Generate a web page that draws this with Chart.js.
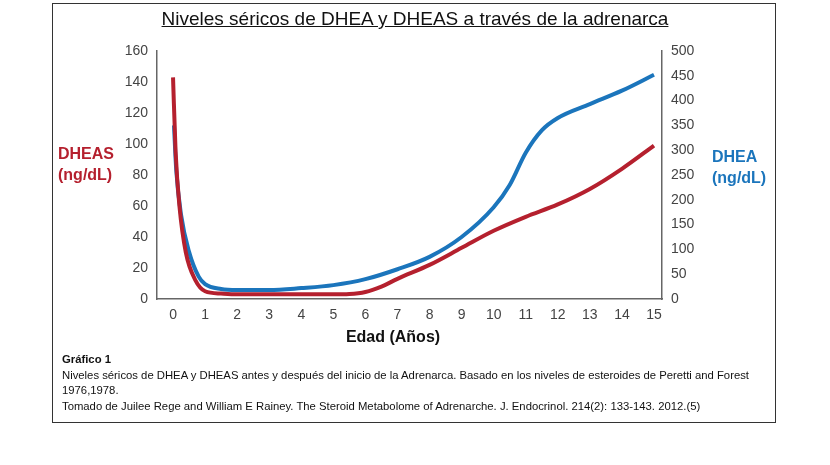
<!DOCTYPE html>
<html><head><meta charset="utf-8">
<script src="https://cdn.jsdelivr.net/npm/chart.js@4"></script>
<style>
body{margin:0;background:#fff;font-family:"Liberation Sans",Arial,sans-serif;}
#wrap{position:relative;width:830px;height:465px;}
#frame{position:absolute;left:52px;top:3px;width:724px;height:420px;border:1px solid #333;box-sizing:border-box;}
.t{position:absolute;white-space:nowrap;}
</style></head><body>
<div id="wrap">
<div id="frame"></div>
<canvas id="c" width="830" height="465" style="position:absolute;left:0;top:0"></canvas>
<div class="t" style="left:0;width:830px;text-align:center;top:8px;font-size:19px;text-decoration:underline;color:#111">Niveles séricos de DHEA y DHEAS a través de la adrenarca</div>
<div class="t" style="left:58px;top:143px;font-size:16px;font-weight:bold;color:#b5202e;line-height:21px;text-align:left">DHEAS<br>(ng/dL)</div>
<div class="t" style="left:712px;top:146px;font-size:16px;font-weight:bold;color:#1b75bc;line-height:21px">DHEA<br>(ng/dL)</div>
<div class="t" style="left:0;width:830px;text-align:center;top:328px;font-size:16px;font-weight:bold;color:#111"><span style="position:relative;left:-22px">Edad (Años)</span></div>
<div class="t" style="left:62px;top:352px;font-size:11.3px;color:#111;line-height:15.5px;white-space:normal;width:705px"><b>Gráfico 1</b><br>Niveles séricos de DHEA y DHEAS antes y después del inicio de la Adrenarca. Basado en los niveles de esteroides de Peretti and Forest 1976,1978.<br>Tomado de Juilee Rege and William E Rainey. The Steroid Metabolome of Adrenarche. J. Endocrinol. 214(2): 133-143. 2012.(5)</div>
</div>
<script>
const dheasX=[0,0.08,0.2,0.4,0.7,1,1.5,2,3,4,5,5.5,6,6.5,7,8,9,10,11,12,13,14,15];
const dheasY=[143,95,60,30,12,5,3.5,3,3,3,3,3.2,4.5,8,13,22,33,44,53,61,71,84,99];
const dheaX=[0.03,0.1,0.25,0.5,0.8,1,1.5,2,3,4,5,6,7,8,9,10,10.5,11,11.5,12,13,14,15];
const dheaY=[350,260,170,95,45,30,20,18,18,22,28,40,60,85,125,185,230,295,340,365,393,420,452];
const xTicks=[0,1,2,3,4,5,6,7,8,9,10,11,12,13,14,15];
const pts=(xs,ys)=>xs.map((x,i)=>({x,y:ys[i]}));
const tickFont={family:"Liberation Sans, Arial",size:14};
new Chart(document.getElementById('c'),{
 type:'line',
 data:{datasets:[
  {data:pts(dheasX,dheasY),borderColor:'#b5202e',borderWidth:4,pointRadius:0,cubicInterpolationMode:'monotone',yAxisID:'y'},
  {data:pts(dheaX,dheaY),borderColor:'#1b75bc',borderWidth:4,pointRadius:0,cubicInterpolationMode:'monotone',yAxisID:'y1'}
 ]},
 options:{responsive:false,animation:false,
  layout:{padding:{left:100,right:118,top:51,bottom:136}},
  plugins:{legend:{display:false},tooltip:{enabled:false}},
  scales:{
   x:{type:'linear',min:-0.5,max:15.25,afterBuildTicks:s=>{s.ticks=xTicks.map(v=>({value:v}))},
      afterFit:s=>{s.height=30},
      grid:{display:false,drawTicks:true,tickLength:6,color:'#666'},border:{color:'#666',width:1.5},
      ticks:{color:'#444',font:tickFont,padding:2}},
   y:{position:'left',min:0,max:160,afterBuildTicks:s=>{s.ticks=[0,20,40,60,80,100,120,140,160].map(v=>({value:v}))},
      afterFit:s=>{s.width=57},
      grid:{display:false,tickLength:6,color:'#666'},border:{color:'#666',width:1.5},
      ticks:{color:'#444',font:tickFont,padding:3}},
   y1:{position:'right',min:0,max:500,afterBuildTicks:s=>{s.ticks=[0,50,100,150,200,250,300,350,400,450,500].map(v=>({value:v}))},
      afterFit:s=>{s.width=50},
      grid:{display:false,tickLength:6,color:'#666'},border:{color:'#666',width:1.5},
      ticks:{color:'#444',font:tickFont,padding:3}}
  }}
});
</script>
</body></html>
